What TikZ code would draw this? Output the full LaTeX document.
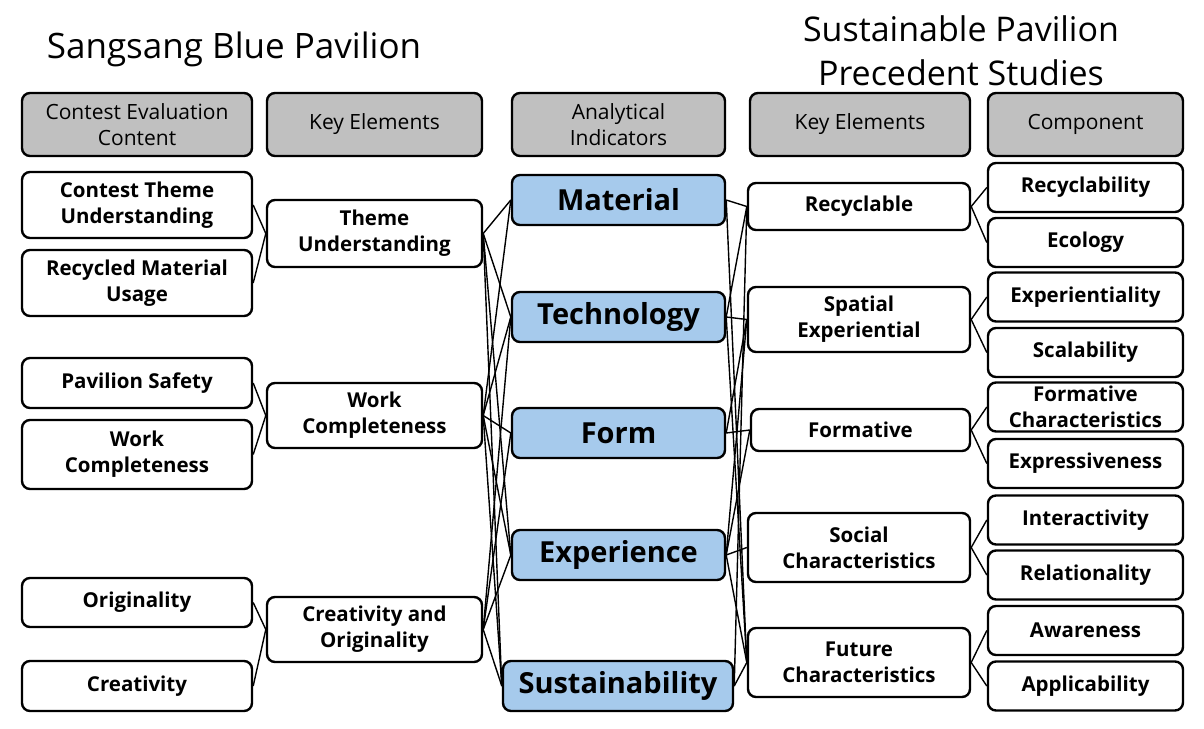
\documentclass[tikz,border=0pt]{standalone}
\usepackage{fontspec}
\setmainfont{Open Sans}
\definecolor{headgray}{RGB}{192,192,192}
\definecolor{indblue}{RGB}{166,202,236}
\begin{document}
\begin{tikzpicture}[x=1pt,y=-1pt,
	box/.style={draw,line width=2.4pt,rounded corners=8pt,fill=white,align=center,inner sep=0pt,font=\fontsize{20.5}{26}\selectfont\bfseries},
	head/.style={box,fill=headgray,font=\fontsize{21}{26}\selectfont},
	ind/.style={box,fill=indblue,minimum height=50,font=\fontsize{29}{34}\selectfont\bfseries},
	comp/.style={box,minimum width=195,minimum height=49},
	link/.style={line width=1.4pt}]
	\useasboundingbox (0,0) rectangle (1204,728);
	
	% titles
	\node[font=\fontsize{35}{44}\selectfont] (tl) at (234,49) {Sangsang Blue Pavilion};
	\node[font=\fontsize{34}{44}\selectfont,align=center] (tr) at (961,51) {Sustainable Pavilion\\Precedent Studies};
	
	% header row
	\node[head,minimum width=230,minimum height=63] (h1) at (137,124.5) {Contest Evaluation\\Content};
	\node[head,minimum width=215,minimum height=63] (h2) at (374.5,124.5) {Key Elements};
	\node[head,minimum width=213,minimum height=63] (h3) at (618.5,124.5) {Analytical\\Indicators};
	\node[head,minimum width=220,minimum height=63] (h4) at (860,124.5) {Key Elements};
	\node[head,minimum width=195,minimum height=63] (h5) at (1085.5,124.5) {Component};
	
	% contest evaluation content
	\node[box,minimum width=230,minimum height=66] (ctu) at (137,205) {Contest Theme\\Understanding};
	\node[box,minimum width=230,minimum height=66] (rmu) at (137,283) {Recycled Material\\Usage};
	\node[box,minimum width=230,minimum height=50] (pvs) at (137,383) {Pavilion Safety};
	\node[box,minimum width=230,minimum height=69] (wcl) at (137,454.5) {Work\\Completeness};
	\node[box,minimum width=230,minimum height=49] (org) at (137,602.5) {Originality};
	\node[box,minimum width=230,minimum height=50] (crt) at (137,686) {Creativity};
	
	% key elements (left)
	\node[box,minimum width=215,minimum height=67] (thu) at (374.5,233.5) {Theme\\Understanding};
	\node[box,minimum width=215,minimum height=65] (wck) at (374.5,415.5) {Work\\Completeness};
	\node[box,minimum width=215,minimum height=65] (cao) at (374.5,629.5) {Creativity and\\Originality};
	
	% analytical indicators
	\node[ind,minimum width=213] (mat) at (618.5,200) {Material};
	\node[ind,minimum width=213] (tec) at (618.5,317) {Technology};
	\node[ind,minimum width=213] (frm) at (618.5,433) {Form};
	\node[ind,minimum width=213] (exp) at (618.5,555) {Experience};
	\node[ind,minimum width=230] (sus) at (618,686) {Sustainability};
	
	% key elements (right)
	\node[box,minimum width=222,minimum height=47] (rec) at (859,206.5) {Recyclable};
	\node[box,minimum width=222,minimum height=65] (spe) at (859,319.5) {Spatial\\Experiential};
	\node[box,minimum width=219,minimum height=42] (fmt) at (860.5,430) {Formative};
	\node[box,minimum width=222,minimum height=69] (soc) at (859,547.5) {Social\\Characteristics};
	\node[box,minimum width=222,minimum height=69] (fut) at (859,662.5) {Future\\Characteristics};
	
	% components
	\node[comp] (c1) at (1085.5,187.5) {Recyclability};
	\node[comp] (c2) at (1085.5,242.5) {Ecology};
	\node[comp] (c3) at (1085.5,297) {Experientiality};
	\node[comp] (c4) at (1085.5,352.5) {Scalability};
	\node[comp] (c5) at (1085.5,407) {Formative\\Characteristics};
	\node[comp] (c6) at (1085.5,463.5) {Expressiveness};
	\node[comp] (c7) at (1085.5,520) {Interactivity};
	\node[comp] (c8) at (1085.5,575) {Relationality};
	\node[comp] (c9) at (1085.5,630.5) {Awareness};
	\node[comp] (c10) at (1085.5,686) {Applicability};
	
	% left links
	\draw[link] (ctu.east) -- (thu.west) -- (rmu.east);
	\draw[link] (pvs.east) -- (wck.west) -- (wcl.east);
	\draw[link] (org.east) -- (cao.west) -- (crt.east);
	
	% middle links (left)
	\draw[link] (thu.east) -- (mat.west);
	\draw[link] (thu.east) -- (tec.west);
	\draw[link] (thu.east) -- (exp.west);
	\draw[link] (thu.east) -- (sus.west);
	\draw[link] (wck.east) -- (mat.west);
	\draw[link] (wck.east) -- (tec.west);
	\draw[link] (wck.east) -- (frm.west);
	\draw[link] (wck.east) -- (exp.west);
	\draw[link] (wck.east) -- (sus.west);
	\draw[link] (cao.east) -- (tec.west);
	\draw[link] (cao.east) -- (frm.west);
	\draw[link] (cao.east) -- (exp.west);
	\draw[link] (cao.east) -- (sus.west);
	
	% middle links (right)
	\draw[link] (mat.east) -- (rec.west);
	\draw[link] (mat.east) -- (fut.west);
	\draw[link] (tec.east) -- (rec.west);
	\draw[link] (tec.east) -- (spe.west);
	\draw[link] (tec.east) -- (fut.west);
	\draw[link] (frm.east) -- (spe.west);
	\draw[link] (frm.east) -- (fmt.west);
	\draw[link] (exp.east) -- (spe.west);
	\draw[link] (exp.east) -- (fmt.west);
	\draw[link] (exp.east) -- (soc.west);
	\draw[link] (exp.east) -- (fut.west);
	\draw[link] (sus.east) -- (rec.west);
	\draw[link] (sus.east) -- (fut.west);
	
	% right links
	\draw[link] (c1.west) -- (rec.east) -- (c2.west);
	\draw[link] (c3.west) -- (spe.east) -- (c4.west);
	\draw[link] (c5.west) -- (fmt.east) -- (c6.west);
	\draw[link] (c7.west) -- (soc.east) -- (c8.west);
	\draw[link] (c9.west) -- (fut.east) -- (c10.west);
\end{tikzpicture}
\end{document}
